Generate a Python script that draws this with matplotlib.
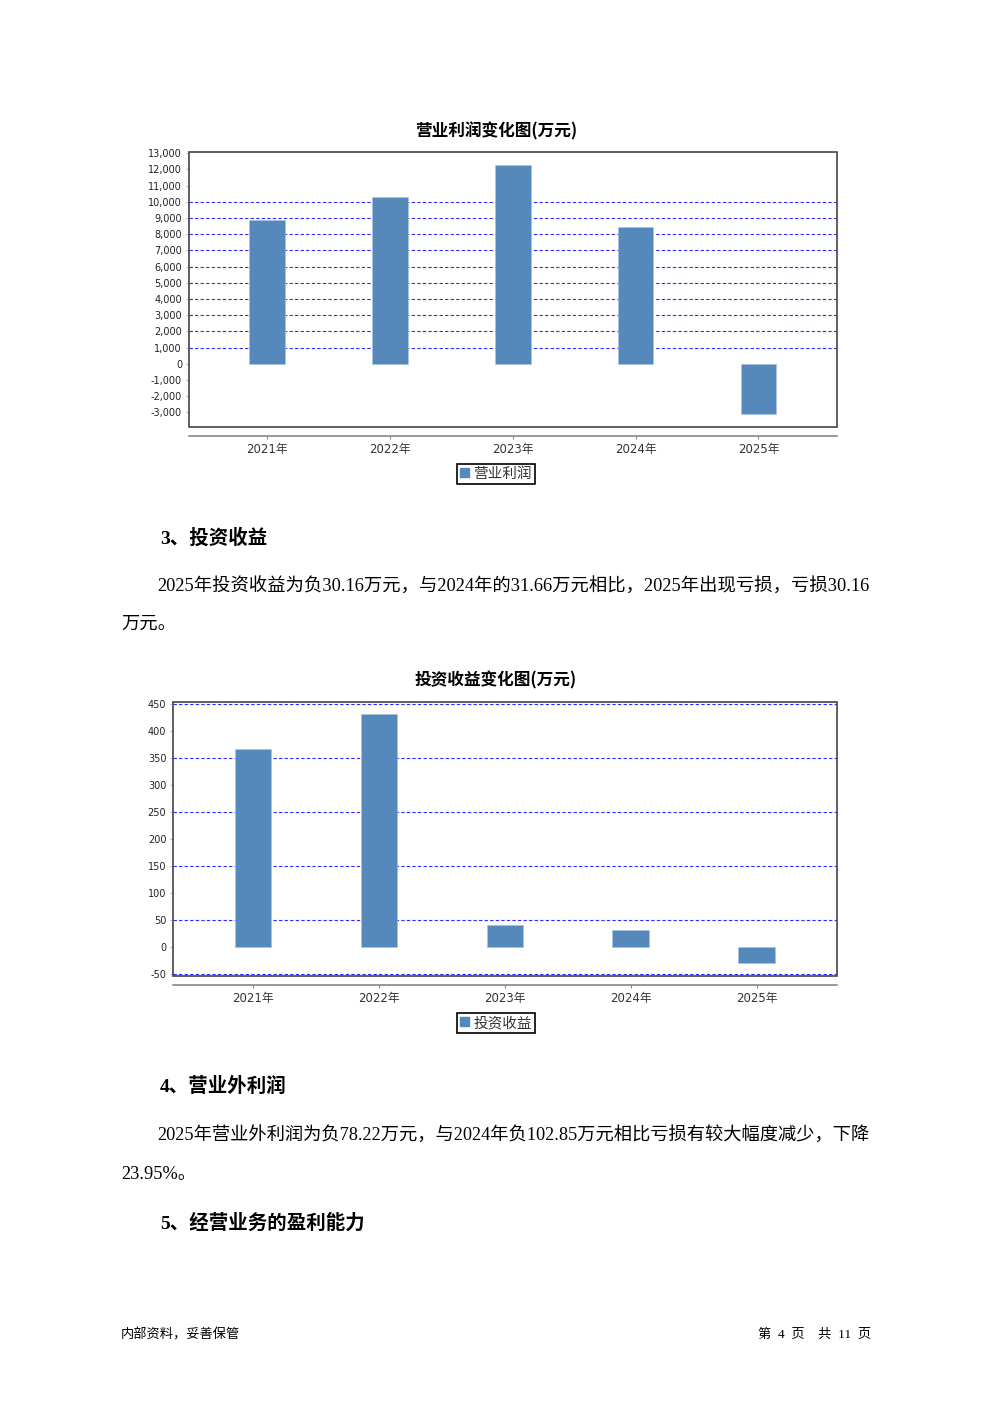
import matplotlib
matplotlib.use("Agg")
import matplotlib.pyplot as plt
from matplotlib.patches import Rectangle, Patch
from matplotlib.ticker import FuncFormatter

plt.rcParams['font.family'] = ['DejaVu Sans', 'Noto Sans CJK SC']

# data
years = ["2021年", "2022年", "2023年", "2024年", "2025年"]
op_profit = [8890, 10310, 12270, 8420, -3120]
op_ticks = list(range(-3000, 13001, 1000))
op_grid = list(range(1000, 10001, 1000))

inv_income = [367.5, 432.5, 40.3, 31.66, -30.16]
inv_ticks = list(range(-50, 451, 50))
inv_grid = [-50, 50, 150, 250, 350, 450]

BAR = "#5589bb"
GRID = "#2b2bff"
serif_cn = ['Liberation Serif', 'Noto Sans CJK SC']

fig = plt.figure(figsize=(9.92, 14.03), dpi=100)
W, H = 992, 1403


def fy(px):
    return 1 - px / H


def bar_chart(rect, values, ticks, grid, ylim, title, title_y, legend_label, legend_y, fmt):
    ax = fig.add_axes(rect)
    x = range(len(years))
    ax.bar(x, values, width=0.29, color=BAR, edgecolor="#a9c4e0", linewidth=0.5, zorder=3)
    for g in grid:
        ax.axhline(g, color=GRID, lw=0.8, ls=(0, (3, 2)), zorder=1)
    ax.set_xlim(-0.635, len(years) - 1 + 0.637)
    ax.set_ylim(*ylim)
    ax.set_yticks(ticks)
    ax.yaxis.set_major_formatter(FuncFormatter(fmt))
    ax.set_xticks(list(x))
    ax.set_xticklabels(years)
    ax.tick_params(axis='y', labelsize=7, length=2, color="#bbbbbb", pad=3, labelcolor="#222222")
    ax.tick_params(axis='x', labelsize=8.5, length=2, color="#888888", pad=3, labelcolor="#333333")
    for s in ["top", "right", "left"]:
        ax.spines[s].set_visible(False)
    ax.spines["bottom"].set_position(("outward", 6.5))
    ax.spines["bottom"].set_color("#888888")
    ax.spines["bottom"].set_linewidth(1.2)
    ax.add_patch(Rectangle((0, 0), 1, 1, transform=ax.transAxes, fill=False,
                           edgecolor="#444444", lw=1.2, clip_on=False, zorder=5))
    fig.text(0.5, fy(title_y), title, ha="center", va="center", fontsize=12,
             fontweight="bold", family=['Noto Sans CJK SC'])
    fig.legend(handles=[Patch(color=BAR, label=legend_label)], loc="center",
               bbox_to_anchor=(0.5, fy(legend_y)), frameon=True, fancybox=False,
               edgecolor="black", prop={'family': 'Noto Sans CJK SC', 'size': 10.5},
               labelcolor="#333333",
               handlelength=0.6, handleheight=0.6, handletextpad=0.3,
               borderpad=0.2, borderaxespad=0, framealpha=1)
    fig.legends[-1].get_frame().set_linewidth(1.2)
    return ax


bar_chart([189 / W, fy(427), (836.7 - 189) / W, (427 - 152.3) / H],
          op_profit, op_ticks, op_grid, (-3900, 13050), "营业利润变化图(万元)", 131,
          "营业利润", 474, lambda v, p: f"{int(v):,}")

bar_chart([173.3 / W, fy(976), (836.7 - 173.3) / W, (976 - 701.7) / H],
          inv_income, inv_ticks, inv_grid, (-54.5, 455), "投资收益变化图(万元)", 680,
          "投资收益", 1023, lambda v, p: f"{int(v)}")

# document text
def txt(x, y, s, size=13.2, bold=False, family=serif_cn):
    fig.text(x / W, fy(y + 2), s, ha="left", va="center", fontsize=size,
             fontweight="bold" if bold else "normal", family=family)

txt(160, 536, "3、投资收益", 14, True)
txt(157, 585, "2025年投资收益为负30.16万元，与2024年的31.66万元相比，2025年出现亏损，亏损30.16")
txt(121, 622, "万元。")
txt(160, 1084, "4、营业外利润", 14, True)
txt(157, 1134, "2025年营业外利润为负78.22万元，与2024年负102.85万元相比亏损有较大幅度减少，下降", 13.15)
txt(121, 1172, "23.95%。")
txt(160, 1221, "5、经营业务的盈利能力", 14, True)
txt(121, 1333, "内部资料，妥善保管", 9.5)
fig.text(871 / W, fy(1335), "第  4  页    共  11  页", ha="right", va="center", fontsize=9.5, family=serif_cn)

fig.savefig("out.png", dpi=100)
